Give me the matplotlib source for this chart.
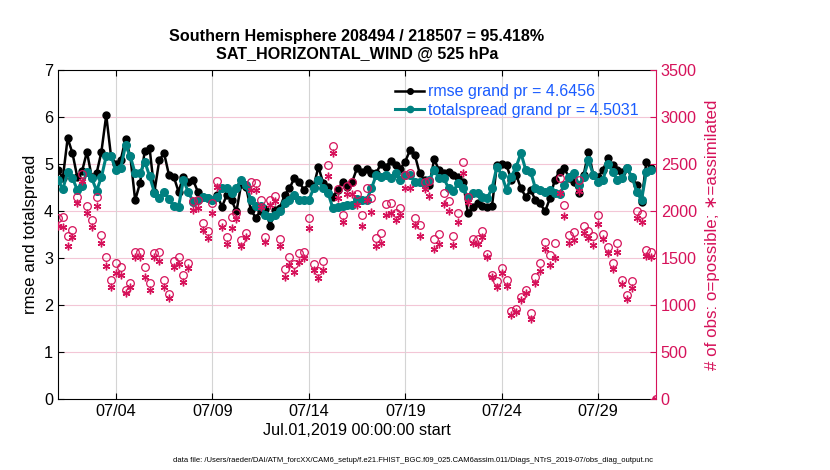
import numpy as np
import pandas as pd
import matplotlib
matplotlib.use("Agg")
import matplotlib.pyplot as plt
import matplotlib.dates as mdates
from matplotlib.lines import Line2D

plt.rcParams["font.family"] = ["Liberation Sans", "DejaVu Sans"]

# 6-hourly bins, Jul 1 00Z .. Aug 1 00Z
times = pd.date_range("2019-07-01 00:00", periods=125, freq="6h")

rmse = [
    4.87, 4.70, 5.55, 5.23, 4.72, 4.85, 5.26, 4.72, 4.80, 5.26,
    6.04, 5.16, 5.00, 5.08, 5.53, 5.16, 4.23, 4.59, 5.28, 5.33,
    4.41, 5.08, 5.23, 4.77, 4.73, 4.41, 4.73, 4.62, 4.66, 4.41,
    4.30, 4.27, 4.23, 4.34, 4.09, 4.34, 4.23, 3.99, 4.58, 4.51,
    4.02, 3.86, 4.00, 4.05, 3.68, 4.02, 4.06, 4.34, 4.48, 4.70,
    4.62, 4.45, 4.59, 4.52, 4.94, 4.59, 4.52, 4.30, 4.45, 4.62,
    4.52, 4.62, 4.91, 4.84, 4.89, 4.80, 4.81, 5.01, 4.94, 5.07,
    4.98, 4.90, 5.05, 5.30, 5.19, 4.80, 4.66, 4.55, 5.10, 4.87,
    4.80, 4.84, 4.77, 4.73, 4.62, 3.95, 4.09, 4.16, 4.11, 4.09,
    4.11, 4.98, 5.01, 4.98, 4.66, 4.77, 4.48, 4.30, 4.45, 4.23,
    4.16, 3.99, 4.27, 4.66, 4.84, 4.91, 4.70, 4.62, 4.38, 4.77,
    5.26, 4.77, 4.73, 4.87, 5.12, 4.98, 4.87, 4.84, 4.91, 4.70,
    4.55, 4.20, 5.05, 4.91, np.nan,
]

totalspread = [
    4.66, 4.46, 4.84, 4.70, 4.45, 4.53, 4.84, 4.70, 4.43, 4.72,
    5.17, 5.17, 4.87, 4.91, 5.40, 5.16, 4.80, 4.80, 5.05, 4.74,
    4.39, 4.28, 4.41, 4.25, 4.11, 4.09, 4.66, 4.41, 4.20, 4.23,
    4.30, 4.27, 4.23, 4.30, 4.48, 4.48, 4.38, 4.48, 4.66, 4.55,
    4.23, 4.10, 4.11, 3.91, 3.88, 3.91, 3.99, 4.16, 4.23, 4.34,
    4.23, 4.23, 4.23, 4.48, 4.66, 4.48, 4.38, 4.06, 4.09, 4.11,
    4.13, 4.13, 4.26, 4.23, 4.23, 4.48, 4.77, 4.73, 4.77, 4.70,
    4.80, 4.66, 4.77, 4.77, 4.62, 4.62, 4.60, 4.66, 4.87, 4.70,
    4.70, 4.48, 4.42, 4.60, 4.48, 4.30, 4.38, 4.38, 4.30, 4.27,
    4.48, 4.94, 4.77, 4.45, 4.73, 4.94, 5.23, 4.87, 4.84, 4.48,
    4.45, 4.41, 4.45, 4.38, 4.36, 4.55, 4.73, 4.80, 4.55, 4.73,
    5.08, 4.77, 4.62, 4.66, 5.01, 4.84, 4.66, 4.70, 4.91, 4.73,
    4.41, 4.23, 4.84, 4.87, np.nan,
]

nposs = [
    1922, 1940, 1734, 1798, 2152, 2394, 2053, 1904, 2145, 1745,
    1514, 1266, 1443, 1408, 1160, 1238, 1567, 1567, 1401, 1230,
    1557, 1567, 1266, 1113, 1472, 1514, 1319, 1443, 2110, 2117,
    1869, 1787, 2089, 2319, 1876, 1727, 1940, 1975, 1691, 1762,
    2312, 2294, 2117, 1727, 2117, 2159, 1699, 1379, 1514, 1436,
    1550, 1567, 1922, 1436, 1365, 1465, 2489, 2691, 2234, 1957,
    2266, 2312, 2181, 1957, 2241, 2135, 1709, 1770, 2071, 2089,
    1975, 2028, 2383, 2408, 1922, 1851, 2312, 2319, 1699, 1752,
    2188, 2106, 1734, 1975, 2518, 2152, 1699, 1699, 1787, 1543,
    1319, 1255, 1390, 1266, 940, 957, 1082, 1160, 918, 1301,
    1443, 1667, 1532, 1656, 2347, 2064, 1745, 1773, 2330, 1840,
    1787, 1734, 1957, 1752, 1620, 1443, 1656, 1266, 1106, 1255,
    2000, 1965, 1585, 1560, 0,
]

nused = [
    1840, 1826, 1628, 1720, 2082, 2319, 1982, 1826, 2053, 1656,
    1415, 1195, 1344, 1319, 1131, 1188, 1507, 1507, 1301, 1160,
    1514, 1465, 1188, 1071, 1401, 1436, 1248, 1390, 2011, 2028,
    1798, 1709, 1982, 2252, 1833, 1649, 1823, 1911, 1628, 1720,
    2223, 2223, 2046, 1674, 2064, 2110, 1631, 1301, 1425, 1347,
    1461, 1503, 1816, 1372, 1284, 1372, 2372, 2613, 2135, 1886,
    2181, 2181, 2060, 1840, 2117, 1993, 1631, 1663, 1957, 1975,
    1904, 1957, 2241, 2241, 1851, 1734, 2230, 2163, 1592, 1649,
    2074, 2000, 1638, 1879, 2408, 2099, 1656, 1649, 1720, 1514,
    1301, 1195, 1337, 1202, 894, 929, 1053, 1131, 848, 1238,
    1365, 1592, 1425, 1496, 2188, 1947, 1663, 1691, 2213, 1762,
    1716, 1638, 1862, 1699, 1550, 1379, 1560, 1223, 1064, 1177,
    1922, 1879, 1525, 1514, 0,
]

rmse_grand = 4.6456
spread_grand = 4.5031
title_lines = ["Southern Hemisphere 208494 / 218507 = 95.418%",
               "SAT_HORIZONTAL_WIND @ 525 hPa"]
data_file = ("data file: /Users/raeder/DAI/ATM_forcXX/CAM6_setup/"
             "f.e21.FHIST_BGC.f09_025.CAM6assim.011/Diags_NTrS_2019-07/obs_diag_output.nc")

crimson = "#d6125a"
teal = "#008080"
legend_blue = "#1a5cff"

fig = plt.figure(figsize=(8.3, 4.7), dpi=100)
ax = fig.add_axes([58 / 830, 71 / 470, 598 / 830, 329 / 470])

# grid first so it sits under the data
for yv in range(1, 7):
    ax.axhline(yv, color="#f3c6d6", lw=0.8, zorder=0)

ax.plot(times, rmse, "-o", color="black", lw=1.8, ms=5, zorder=3)
ax.plot(times, totalspread, "-o", color=teal, lw=2.2, ms=5.5, zorder=4)

ax.set_xlim(times[0], times[-1])
ax.set_ylim(0, 7)
ax.set_yticks(range(0, 8))
ax.xaxis.set_major_locator(mdates.DayLocator(bymonthday=[4, 9, 14, 19, 24, 29]))
ax.xaxis.set_major_formatter(mdates.DateFormatter("%m/%d"))
ax.grid(axis="x", color="#d4d4d4", lw=0.8, zorder=0)
ax.tick_params(direction="in", length=4, labelsize=11.7, top=True, right=False)
ax.spines["right"].set_visible(False)
ax.set_ylabel("rmse and totalspread", fontsize=12.2)
ax.set_xlabel("Jul.01,2019 00:00:00 start", fontsize=11.7, labelpad=3)
ax.set_title("\n".join(title_lines), fontsize=11.6, fontweight="bold", pad=8,
             linespacing=1.2)

handles = [
    Line2D([], [], color="black", marker="o", lw=1.8, ms=4),
    Line2D([], [], color=teal, marker="o", lw=2.2, ms=4.5),
]
labels = [f"rmse grand pr = {rmse_grand:.4f}",
          f"totalspread grand pr = {spread_grand:.4f}"]
leg = ax.legend(handles, labels, loc="upper right", frameon=False, fontsize=11.5,
                labelcolor=legend_blue, handlelength=1.8, handletextpad=0.25,
                borderaxespad=0.5, labelspacing=0.2, bbox_to_anchor=(0.995, 1.0))

ax2 = ax.twinx()
ax2.plot(times, nposs, "o", mfc="none", mec=crimson, ms=5.5, mew=0.9, zorder=5)
ax2.plot(times, nused, ls="none", marker=(6, 2, 0), color=crimson, ms=5.5,
         mew=1.0, zorder=5)
ax2.set_ylim(0, 3500)
ax2.set_yticks(range(0, 3501, 500))
ax2.tick_params(direction="in", length=4, labelsize=11.7, colors=crimson)
for side in ["left", "top", "bottom"]:
    ax2.spines[side].set_visible(False)
ax2.spines["right"].set_color(crimson)
ax2.set_ylabel("# of obs: o=possible; \u2217=assimilated", fontsize=12.2,
               color=crimson, labelpad=6)

fig.text(0.497, 0.021, data_file, fontsize=5.5, ha="center", va="center")

fig.savefig("out.png", dpi=100)
